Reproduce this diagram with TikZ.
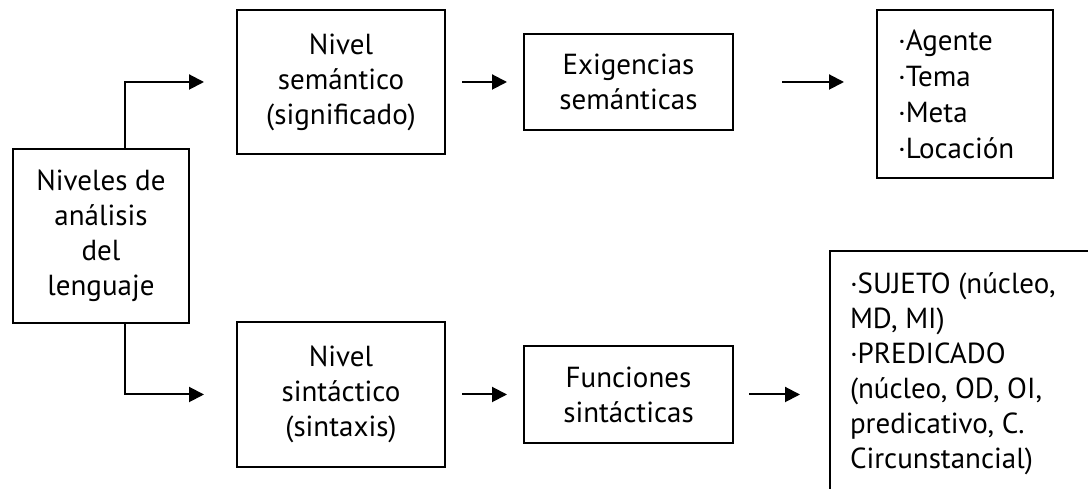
\documentclass[tikz,border=0pt]{standalone}
\usepackage{fontspec}
\setmainfont{PT Sans}
\usetikzlibrary{arrows.meta}

\begin{document}
\begin{tikzpicture}[x=1pt,y=1pt,
  caja/.style={draw,line width=2pt,align=center,inner sep=0pt,
    font=\fontsize{29}{35}\selectfont},
  lista/.style={caja,align=left,inner xsep=21pt},
  listalarga/.style={draw,line width=2pt,inner xsep=20pt,inner ysep=22pt,anchor=north west},
  flecha/.style={line width=2pt,-{Triangle[length=15pt,width=15pt]}}]
\useasboundingbox (0,0) rectangle (1088,489);
\clip (0,0) rectangle (1088,489);
\node[caja,minimum width=176pt,minimum height=174pt] (niveles) at (101,253) {Niveles de\\análisis\\del\\lenguaje};
\node[caja,minimum width=208pt,minimum height=144pt] (semantico) at (341,407) {Nivel\\semántico\\(significado)};
\node[caja,minimum width=208pt,minimum height=145pt] (sintactico) at (341,94.5) {Nivel\\sintáctico\\(sintaxis)};
\node[caja,minimum width=209pt,minimum height=96pt] (exigencias) at (628.5,407) {Exigencias\\semánticas};
\node[caja,minimum width=209pt,minimum height=97pt] (funciones) at (628.5,94.5) {Funciones\\sintácticas};
\node[lista,text width=134pt,minimum height=168pt,font=\fontsize{29}{36}\selectfont] (agente) at (965,395) {·Agente\\·Tema\\·Meta\\·Locación};
\node[listalarga] (sujeto) at (829,239)
  {\parbox[t][300pt][t]{250pt}{\fontsize{29}{35}\selectfont\raggedright
   ·SUJETO (núcleo,\\MD, MI)\\·PREDICADO\\(núcleo, OD, OI,\\predicativo, C.\\Circunstancial)}};
% conectores
\draw[flecha] ([xshift=24pt]niveles.north) |- ([xshift=-32pt]semantico.west);
\draw[flecha] ([xshift=24pt]niveles.south) |- ([xshift=-32pt]sintactico.west);
\draw[flecha,shorten <=16pt,shorten >=16pt] (semantico) -- (exigencias);
\draw[flecha,shorten <=16pt,shorten >=16pt] (sintactico) -- (funciones);
\draw[flecha,shorten <=48pt,shorten >=32pt] (exigencias.east) -- (exigencias.east -| agente.west);
\draw[flecha,shorten <=15pt,shorten >=29pt] (funciones.east) -- (funciones.east -| sujeto.west);
\end{tikzpicture}
\end{document}
